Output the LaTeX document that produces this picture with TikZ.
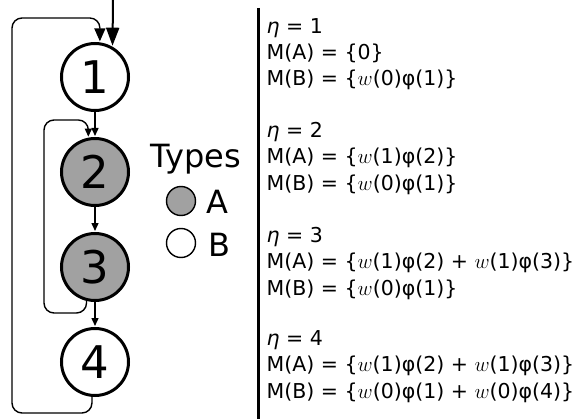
\documentclass[tikz,border=0pt]{standalone}
\usepackage{fontspec}
\setmainfont{DejaVu Sans}
\usetikzlibrary{positioning,arrows.meta}

\begin{document}
\begin{tikzpicture}[x=1pt,y=-1pt,line width=1.4pt,shorten >=1pt,
    >={Triangle[length=8pt,width=7pt]}]
    \tikzstyle{state}=[circle,draw,line width=3pt,minimum size=67pt,inner sep=0pt,font=\fontsize{45}{45}\selectfont]
    \tikzstyle{key}=[circle,draw,line width=1.4pt,minimum size=29pt,inner sep=0pt]
    \tikzstyle{big}=[inner sep=0pt,font=\fontsize{32}{32}\selectfont]
    \tikzstyle{eqs}=[anchor=base west,align=left,inner sep=0pt,font=\fontsize{20.5}{26.5}\selectfont]
    \useasboundingbox (0,0) rectangle (579,420);

    % the states
    \foreach \name/\col in {1/white,2/black!37,3/black!37,4/white}
    \node[state,fill=\col] (S-\name) at (95,{77+95*(\name-1)}) {\name};
    % straight transitions
    \foreach \source/\dest in {1/2,2/3,3/4}
    \draw[->] (S-\source) -- (S-\dest);
    % entry arrow
    \coordinate (in) at (113,0);
    \draw[-{Triangle[length=18pt,width=13pt]},line width=2pt] (in) -- (S-1.60);
    % loops back
    \draw[-{Triangle[length=13pt,width=11pt]},rounded corners=10pt] (S-4.265) |- (12,413) -- (12,18) -| (S-1.82);
    \draw[->,rounded corners=10pt] (S-3.256) |- (44,313) -- (44,120) -| (S-2.101);

    % legend
    \node[big,anchor=base west] (types) at (150,167) {Types};
    \node[key,fill=black!37] (K-A) at (181,201) {};
    \node[key,fill=white] (K-B) at (181,243) {};
    \node[big,anchor=base west] (L-A) at (206,213) {A};
    \node[big,anchor=base west] (L-B) at (208,256) {B};

    % separator
    \draw[line width=3pt] (258,8) -- (258,420);

    % the sets for each eta (anchored at the last line)
    \node[eqs] (M-1) at (266,86) {{\itshape η} = 1\\M(A) = \{0\}\\M(B) = \{$w$(0)φ(1)\}};
    \node[eqs] (M-2) at (266,190) {{\itshape η} = 2\\M(A) = \{$w$(1)φ(2)\}\\M(B) = \{$w$(0)φ(1)\}};
    \node[eqs] (M-3) at (266,295) {{\itshape η} = 3\\M(A) = \{$w$(1)φ(2) + $w$(1)φ(3)\}\\M(B) = \{$w$(0)φ(1)\}};
    \node[eqs] (M-4) at (266,398) {{\itshape η} = 4\\M(A) = \{$w$(1)φ(2) + $w$(1)φ(3)\}\\M(B) = \{$w$(0)φ(1) + $w$(0)φ(4)\}};
\end{tikzpicture}
\end{document}
